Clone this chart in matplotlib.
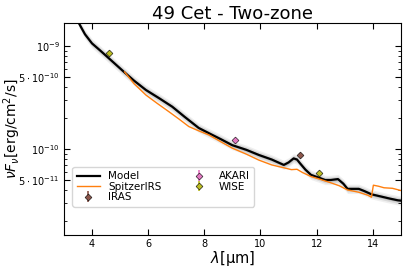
import numpy as np
import matplotlib
matplotlib.use("Agg")
import matplotlib.pyplot as plt
from matplotlib.ticker import FixedLocator, LogLocator, NullFormatter

# Model SED
model_wl = [3.53, 3.75, 4.0, 4.3, 4.6, 5.14, 5.5, 5.92, 6.4, 6.86, 7.3, 7.8, 8.17, 8.6, 8.99,
            9.5, 9.94, 10.4, 10.83, 11.0, 11.18, 11.3, 11.4, 11.6, 11.8, 12.05, 12.3, 12.5,
            12.76, 12.95, 13.1, 13.5, 13.7, 13.95, 14.3, 14.6, 14.9, 15.0]
model_fl = [1.67e-9, 1.30e-9, 1.06e-9, 9.0e-10, 7.6e-10, 5.6e-10, 4.6e-10, 3.74e-10, 3.1e-10,
            2.57e-10, 2.05e-10, 1.6e-10, 1.42e-10, 1.24e-10, 1.09e-10, 9.8e-11, 8.75e-11,
            7.9e-11, 7.0e-11, 7.4e-11, 8.1e-11, 7.9e-11, 7.3e-11, 6.3e-11, 5.6e-11, 5.3e-11,
            5.0e-11, 5.0e-11, 5.1e-11, 4.6e-11, 4.1e-11, 4.1e-11, 3.9e-11, 3.63e-11, 3.45e-11,
            3.3e-11, 3.17e-11, 3.15e-11]

# Spitzer IRS spectrum
irs_wl = [5.16, 5.5, 5.92, 6.3, 6.74, 7.1, 7.45, 7.8, 8.16, 8.6, 8.99, 9.5, 9.94, 10.4, 10.9,
          11.1, 11.3, 11.5, 11.8, 12.1, 12.5, 12.8, 13.1, 13.5, 13.83, 13.95, 14.02, 14.2,
          14.4, 14.7, 15.0]
irs_fl = [5.6e-10, 4.3e-10, 3.34e-10, 2.8e-10, 2.3e-10, 1.95e-10, 1.65e-10, 1.5e-10, 1.37e-10,
          1.17e-10, 1.02e-10, 8.9e-11, 7.8e-11, 7.0e-11, 6.5e-11, 6.3e-11, 6.35e-11, 5.9e-11,
          5.4e-11, 5.1e-11, 4.7e-11, 4.4e-11, 4.0e-11, 3.8e-11, 3.55e-11, 3.4e-11, 4.45e-11,
          4.35e-11, 4.2e-11, 4.15e-11, 3.95e-11]

# Photometry
iras_wl, iras_fl = [11.4], [8.75e-11]
akari_wl, akari_fl = [9.1], [1.21e-10]
wise_wl, wise_fl = [4.6, 12.1], [8.55e-10, 5.8e-11]

fig = plt.figure(figsize=(4.07, 2.68), dpi=100)
ax = fig.add_axes([0.157, 0.123, 0.828, 0.791])

mw = np.array(model_wl)
mf = np.array(model_fl)
for f, a in [(1.11, 0.12), (1.07, 0.2), (1.035, 0.3)]:
    ax.fill_between(mw, mf / f, mf * f, color='gray', alpha=a, lw=0)
ax.plot(mw, mf, color='black', lw=1.6, label='Model')
ax.plot(irs_wl, irs_fl, color='#ff7f0e', lw=1.0, label='SpitzerIRS')

def phot(x, y, c, lab):
    y = np.array(y)
    ax.errorbar(x, y, yerr=0.04 * y, fmt='D', color=c, ecolor=c, mec='black', mew=0.4,
                ms=3.5, elinewidth=1.2, label=lab, zorder=5)

phot(iras_wl, iras_fl, '#8c564b', 'IRAS')
phot(akari_wl, akari_fl, '#e377c2', 'AKARI')
phot(wise_wl, wise_fl, '#bcbd22', 'WISE')

ax.set_yscale('log')
ax.set_xlim(3, 15)
ax.set_ylim(1.46e-11, 1.67e-9)
ax.set_xticks([4, 6, 8, 10, 12, 14])
ax.yaxis.set_major_locator(FixedLocator([5e-11, 1e-10, 5e-10, 1e-9]))
ax.set_yticklabels([r'$5\cdot10^{-11}$', r'$10^{-10}$', r'$5\cdot10^{-10}$', r'$10^{-9}$'])
ax.yaxis.set_minor_locator(LogLocator(base=10, subs=[2, 3, 4, 6, 7, 8, 9]))
ax.yaxis.set_minor_formatter(NullFormatter())
ax.tick_params(which='both', direction='in', top=True, right=True, labelsize=7)
ax.tick_params(which='major', length=4, pad=3)
ax.tick_params(which='minor', length=2)

ax.set_xlabel(r'$\lambda$[μm]', fontsize=10.5)
ax.xaxis.set_label_coords(0.5, -0.066)
ax.set_ylabel(r'$\nu F_\nu$[erg/cm$^2$/s]', fontsize=10)
ax.yaxis.set_label_coords(-0.122, 0.5)
ax.set_title('49 Cet - Two-zone', fontsize=13, pad=3)

ax.legend(loc='lower left', bbox_to_anchor=(0.01, 0.11), ncol=2, fontsize=7.5,
          handlelength=2.2, labelspacing=0.05, borderpad=0.4, columnspacing=2.5,
          handletextpad=0.8, framealpha=0.8)

fig.savefig('out.png', dpi=100)
